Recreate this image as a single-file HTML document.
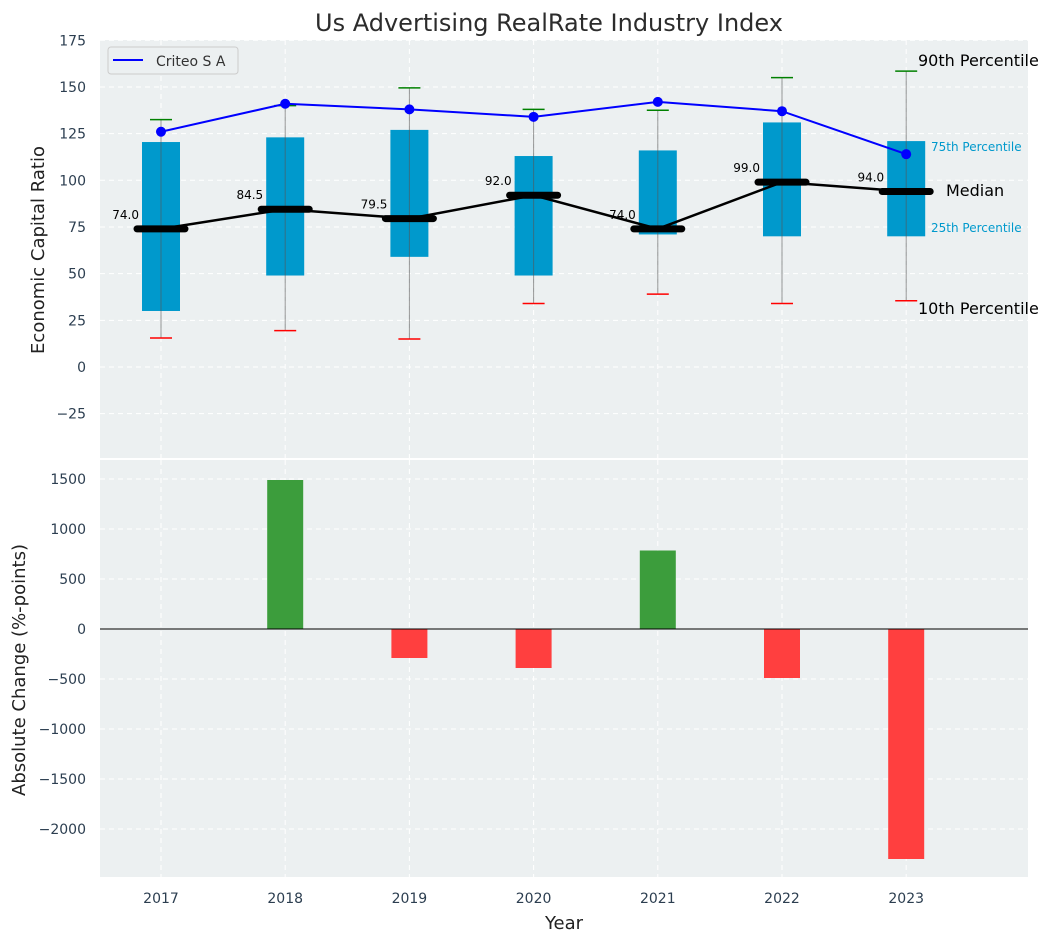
<!DOCTYPE html>
<html><head><meta charset="utf-8"><style>
body{margin:0;background:#fff;}
svg text{font-family:"DejaVu Sans","Liberation Sans",sans-serif;}
</style></head><body>
<svg id="c" width="1053" height="942" xmlns="http://www.w3.org/2000/svg"></svg>
<script>
const years=[2017,2018,2019,2020,2021,2022,2023];
const p10=[15.5,19.5,15,34,39,34,35.5];
const q1=[30,49,59,49,71,70,70];
const median=[74,84.5,79.5,92,74,99,94];
const q3=[120.5,123,127,113,116,131,121];
const p90=[132.5,140,149.5,138,137.5,155,158.5];
const criteo=[126,141,138,134,142,137,114];
const change=[0,1490,-290,-390,785,-490,-2300];
const topTicks=[-25,0,25,50,75,100,125,150,175];
const botTicks=[-2000,-1500,-1000,-500,0,500,1000,1500];

const svg=document.getElementById('c');
const NS='http://www.w3.org/2000/svg';
function el(t,a,p){const e=document.createElementNS(NS,t);for(const k in a)e.setAttribute(k,a[k]);(p||svg).appendChild(e);return e;}
const X0=100,X1=1028;
const x=i=>161+i*124.2;
const yT=v=>367-v*1.867;
const yB=v=>629-v*0.1;
const T0=40,T1=458,B0=460,B1=877;

// backgrounds
let bgT=el('rect',{x:X0,y:T0,width:X1-X0,height:T1-T0,fill:'#ecf0f1'});

let bgB=el('rect',{x:X0,y:B0,width:X1-X0,height:B1-B0,fill:'#ecf0f1'});


// grids
years.forEach((yr,i)=>{
 el('line',{x1:x(i),x2:x(i),y1:T0,y2:T1,stroke:'#fff','stroke-dasharray':'5,4','stroke-width':1});
 el('line',{x1:x(i),x2:x(i),y1:B0,y2:B1,stroke:'#fff','stroke-dasharray':'5,4','stroke-width':1});
 let t=el('text',{x:x(i),y:903,'text-anchor':'middle','font-size':14,fill:'#2c3e50'});t.textContent=yr;
 
});
topTicks.forEach(v=>{
 el('line',{x1:X0,x2:X1,y1:yT(v),y2:yT(v),stroke:'#fff','stroke-dasharray':'5,4'});
 let t=el('text',{x:86,y:yT(v)+5,'text-anchor':'end','font-size':14,fill:'#2c3e50'});t.textContent=v<0?'\u2212'+(-v):v;
 
});
botTicks.forEach(v=>{
 el('line',{x1:X0,x2:X1,y1:yB(v),y2:yB(v),stroke:'#fff','stroke-dasharray':'5,4'});
 let t=el('text',{x:86,y:yB(v)+5,'text-anchor':'end','font-size':14,fill:'#2c3e50'});t.textContent=v<0?'\u2212'+(-v):v;
 
});

// boxes
years.forEach((yr,i)=>{
 let b=el('rect',{x:x(i)-19,y:yT(q3[i]),width:38,height:yT(q1[i])-yT(q3[i]),fill:'#0099cc'});
 
 let w=el('line',{x1:x(i),x2:x(i),y1:yT(p10[i]),y2:yT(p90[i]),stroke:'#555','stroke-opacity':0.6,'stroke-width':1});
 
 let c1=el('line',{x1:x(i)-11,x2:x(i)+11,y1:yT(p10[i]),y2:yT(p10[i]),stroke:'red','stroke-width':1.5});
 
 let c2=el('line',{x1:x(i)-11,x2:x(i)+11,y1:yT(p90[i]),y2:yT(p90[i]),stroke:'green','stroke-width':1.5});
 
});
// median line
let mp=el('polyline',{points:median.map((v,i)=>x(i)+','+yT(v)).join(' '),fill:'none',stroke:'#000','stroke-width':2.5});

median.forEach((v,i)=>{
 let m=el('line',{x1:x(i)-24,x2:x(i)+24,y1:yT(v),y2:yT(v),stroke:'#000','stroke-width':7,'stroke-linecap':'round'});
 
 let t=el('text',{x:x(i)-22,y:yT(v)-10,'text-anchor':'end','font-size':12,fill:'#000'});t.textContent=v.toFixed(1);
 
});
// criteo
let cl=el('polyline',{points:criteo.map((v,i)=>x(i)+','+yT(v)).join(' '),fill:'none',stroke:'blue','stroke-width':2});

criteo.forEach((v,i)=>{let d=el('circle',{cx:x(i),cy:yT(v),r:5,fill:'blue'});
 });

// annotations
const ann=[[918,66,'90th Percentile',16,'#000'],[931,151,'75th Percentile',12,'#0099cc'],[946,196,'Median',16,'#000'],[931,232,'25th Percentile',12,'#0099cc'],[918,314,'10th Percentile',16,'#000']];
ann.forEach(a=>{let t=el('text',{x:a[0],y:a[1],'font-size':a[3],fill:a[4]});t.textContent=a[2];
 });

// legend
let lg=el('rect',{x:108,y:47,width:130,height:27,rx:3,fill:'#ecf0f1',stroke:'#ccc'});

el('line',{x1:113,x2:143,y1:60,y2:60,stroke:'blue','stroke-width':2});
let lt=el('text',{x:156,y:66,'font-size':14,fill:'#333'});lt.textContent='Criteo S A';


// bars
change.forEach((v,i)=>{
 if(v===0)return;
 let r=el('rect',{x:x(i)-18,y:Math.min(yB(v),yB(0)),width:36,height:Math.abs(yB(v)-yB(0)),fill:v>0?'#3c9d3c':'#ff3f3f'});
 
});
el('line',{x1:X0,x2:X1,y1:yB(0),y2:yB(0),stroke:'#000','stroke-width':1});

// titles
let tt=el('text',{x:549,y:31,'text-anchor':'middle','font-size':24,fill:'#2c2c2c'});tt.textContent='Us Advertising RealRate Industry Index';

let xt=el('text',{x:564,y:929,'text-anchor':'middle','font-size':18,fill:'#222'});xt.textContent='Year';

let y1=el('text',{x:0,y:0,'text-anchor':'middle','font-size':18,fill:'#222',transform:'translate(44,250) rotate(-90)'});y1.textContent='Economic Capital Ratio';

let y2=el('text',{x:0,y:0,'text-anchor':'middle','font-size':18,fill:'#222',transform:'translate(25,670) rotate(-90)'});y2.textContent='Absolute Change (%-points)';

</script>
</body></html>
